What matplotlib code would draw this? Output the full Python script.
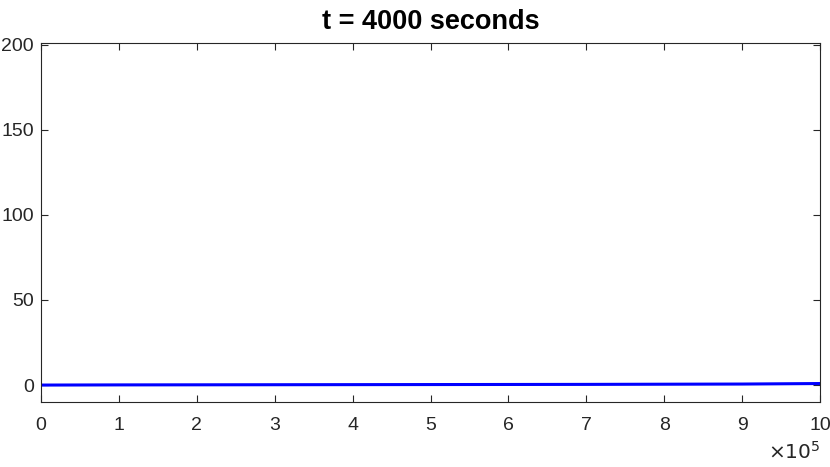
import numpy as np
import matplotlib
matplotlib.use("Agg")
import matplotlib.pyplot as plt

plt.rcParams['font.family'] = ['Liberation Sans', 'DejaVu Sans']

# profile at t = 4000 s
x = [0, 1e5, 2e5, 3e5, 4e5, 5e5, 6e5, 7e5, 8e5, 9e5, 1e6]
u = [0.0, 0.1, 0.15, 0.2, 0.25, 0.3, 0.35, 0.4, 0.5, 0.6, 0.9]
xticks = np.arange(0, 11) * 1e5
xticklabels = [str(i) for i in range(11)]
yticks = [0, 50, 100, 150, 200]

fig = plt.figure(figsize=(8.3, 4.67), dpi=100)
ax = fig.add_axes([0.0494, 0.139, 0.9386, 0.769])
ax.plot(x, u, color=(0, 0, 1), linewidth=2.2)

ax.set_xlim(0, 1e6)
ax.set_ylim(-10, 201)
ax.set_xticks(xticks)
ax.set_xticklabels(xticklabels)
ax.set_yticks(yticks)
ax.tick_params(direction='in', top=True, right=True, length=5, width=0.8,
               colors=(0.15, 0.15, 0.15), labelsize=14)
ax.tick_params(axis='x', pad=11)
ax.tick_params(axis='y', pad=5)
for s in ax.spines.values():
    s.set_color((0.15, 0.15, 0.15))
    s.set_linewidth(0.8)
ax.set_title("t = 4000 seconds", fontsize=19.5, fontweight='bold', pad=10)
fig.text(0.988, 0.01, r"$\times10^5$", ha='right', va='bottom', fontsize=14.5,
         color=(0.15, 0.15, 0.15))

fig.savefig("out.png", dpi=100)
